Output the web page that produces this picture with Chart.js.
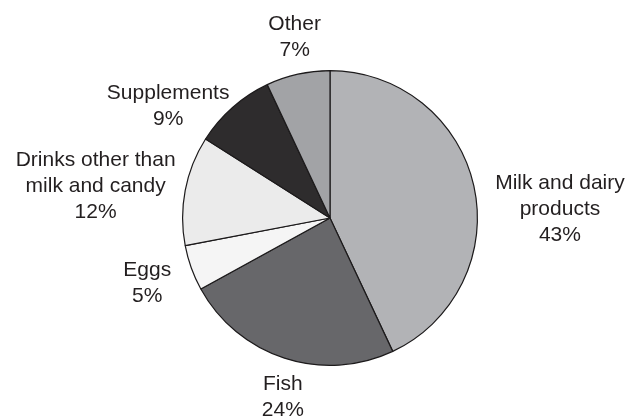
<!DOCTYPE html>
<html>
<head>
<meta charset="utf-8">
<script src="https://cdn.jsdelivr.net/npm/chart.js@4/dist/chart.umd.min.js"></script>
<style>
  html, body { margin: 0; padding: 0; background: #fff; }
  #wrap { width: 629px; height: 418px; position: relative; }
</style>
</head>
<body>
<div id="wrap"><canvas id="pie"></canvas></div>
<script>
const categories = [
    ['Milk and dairy', 'products'],
    ['Fish'],
    ['Eggs'],
    ['Drinks other than', 'milk and candy'],
    ['Supplements'],
    ['Other']
];
const shares = [43, 24, 5, 12, 9, 7];
const sliceColors = ['#b2b3b6', '#67676a', '#f5f5f5', '#ebebeb', '#2e2c2d', '#a2a3a6'];

// where each label block sits, relative to pie centre, in units of radius
const labelSpots = [
    [1.56, -0.06],
    [-0.32, 1.216],
    [-1.24, 0.44],
    [-1.59, -0.213],
    [-1.098, -0.757],
    [-0.24, -1.226]
];

const pieLabels = {
    id: 'pieLabels',
    afterDraw(chart) {
        const ctx = chart.ctx;
        const arcs = chart.getDatasetMeta(0).data;
        ctx.save();
        ctx.font = '21px "Liberation Sans", Arial, sans-serif';
        ctx.fillStyle = '#231f20';
        ctx.textAlign = 'center';
        ctx.textBaseline = 'middle';
        const lh = 26;
        arcs.forEach((arc, i) => {
            const lines = categories[i].concat([shares[i] + '%']);
            const cx = arc.x + labelSpots[i][0] * arc.outerRadius;
            const cy = arc.y + labelSpots[i][1] * arc.outerRadius;
            const top = cy - (lines.length - 1) * lh / 2;
            lines.forEach((t, j) => ctx.fillText(t, cx, top + j * lh));
        });
        ctx.restore();
    }
};

new Chart(document.getElementById('pie'), {
    type: 'pie',
    data: {
        labels: categories.map(c => c.join(' ')),
        datasets: [{
            data: shares,
            backgroundColor: sliceColors,
            borderColor: '#1c1a1b',
            borderWidth: 1.2
        }]
    },
    options: {
        responsive: true,
        maintainAspectRatio: false,
        animation: false,
        layout: {
            padding: { left: 182, right: 151, top: 70, bottom: 52 }
        },
        plugins: {
            legend: { display: false },
            tooltip: { enabled: false }
        }
    },
    plugins: [pieLabels]
});
</script>
</body>
</html>
